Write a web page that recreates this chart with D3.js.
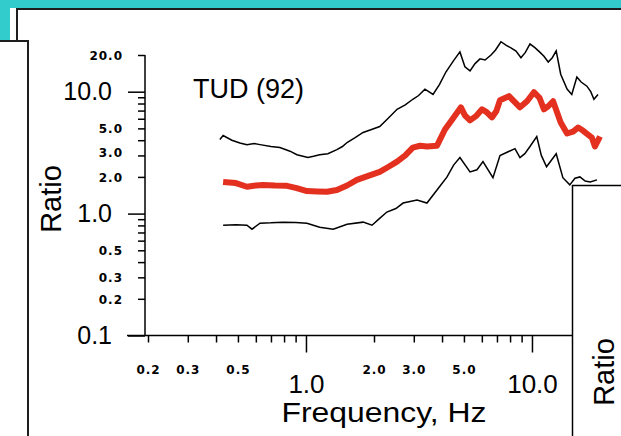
<!DOCTYPE html>
<html><head><meta charset="utf-8">
<script src="https://cdn.jsdelivr.net/npm/d3@7"></script>
<style>html,body{margin:0;padding:0;background:#fff;}svg{display:block;}</style>
</head><body>
<script>
// ---- data ----
const freqUpper = [0.416,0.430,0.470,0.510,0.548,0.590,0.626,0.700,0.767,0.850,0.912,1.02,1.08,1.15,1.25,1.37,1.45,1.52,1.65,1.79,1.95,2.12,2.30,2.53,2.75,2.97,3.15,3.36,3.65,3.90,4.16,4.50,4.80,5.05,5.32,5.60,5.89,6.20,6.59,6.90,7.29,7.70,8.07,8.50,8.94,9.35,9.80,10.3,10.8,11.3,11.8,12.3,12.8,13.4,14.3,15.0,15.8,16.5,17.5,18.2,18.8,19.6];
const upper     = [4.05,4.37,4.00,3.80,3.68,3.75,3.68,3.55,3.48,3.25,3.04,2.88,2.95,3.04,3.10,3.35,3.55,3.83,4.20,4.63,4.90,5.18,6.00,7.17,7.80,8.67,9.30,10.5,9.5,11.5,14.5,18.0,21.2,16.0,14.8,17.0,18.6,18.2,20.0,22.0,25.7,24.0,22.9,21.5,19.0,21.0,24.7,23.0,21.2,19.5,17.5,19.0,21.6,13.9,10.5,9.5,13.2,12.0,11.1,10.0,8.67,9.5];
const freqMid   = [0.430,0.490,0.548,0.600,0.645,0.730,0.824,0.910,1.01,1.12,1.24,1.37,1.52,1.68,1.90,2.12,2.30,2.53,2.75,2.97,3.20,3.43,3.80,4.12,4.47,4.85,5.05,5.32,5.65,6.01,6.30,6.65,6.95,7.22,7.91,8.40,8.85,9.51,10.2,10.8,11.3,11.8,12.4,13.4,14.3,15.2,16.0,16.8,17.7,18.4,19.0,20.0];
const mid       = [1.82,1.78,1.66,1.70,1.72,1.70,1.69,1.62,1.53,1.52,1.51,1.56,1.70,1.89,2.05,2.20,2.40,2.67,3.00,3.48,3.60,3.55,3.61,4.90,6.04,7.44,6.40,5.81,6.30,7.17,6.80,6.15,6.90,8.5,9.2,8.20,7.44,8.35,9.9,8.90,7.17,7.60,8.35,5.60,4.54,4.70,5.09,4.80,4.45,4.20,3.55,4.29];
const freqLower = [0.430,0.490,0.548,0.577,0.626,0.700,0.791,0.900,1.01,1.15,1.32,1.52,1.79,1.96,2.10,2.28,2.50,2.69,3.10,3.43,3.80,4.21,4.50,4.80,5.32,5.71,6.07,6.72,7.22,7.80,8.41,8.85,9.30,9.80,10.5,11.0,11.6,12.8,13.7,14.7,15.5,16.3,17.2,18.1,19.4];
const lower     = [0.803,0.810,0.803,0.745,0.834,0.840,0.851,0.845,0.834,0.773,0.745,0.818,0.851,0.803,0.900,1.03,1.10,1.22,1.29,1.22,1.56,2.00,2.50,2.88,2.20,2.29,2.67,1.97,2.99,3.20,3.41,2.88,3.10,3.55,4.29,3.00,2.42,3.10,1.97,1.72,1.95,2.00,1.85,1.82,1.89];

const yTicks = [0.1,0.2,0.3,0.4,0.5,0.6,0.7,0.8,0.9,1,2,3,4,5,6,7,8,9,10,20];
const yMajor = [0.1,1,10];
const yLabels = {0.1:"0.1",0.2:"0.2",0.3:"0.3",0.5:"0.5",1:"1.0",2:"2.0",3:"3.0",5:"5.0",10:"10.0",20:"20.0"};
const xTicks = [0.2,0.3,0.4,0.5,0.6,0.7,0.8,0.9,1,2,3,4,5,6,7,8,9,10,20];
const xMajor = [1,10];
const xLabels = {0.2:"0.2",0.3:"0.3",0.5:"0.5",1:"1.0",2:"2.0",3:"3.0",5:"5.0",10:"10.0"};
const siteLabel = "TUD (92)";
const xTitle = "Frequency, Hz";
const yTitle = "Ratio";

// ---- drawing ----
const W = 621, H = 436;
const svg = d3.select("body").append("svg").attr("width", W).attr("height", H);
svg.append("rect").attr("width", W).attr("height", H).attr("fill", "#fff");

// slide window frames
const teal = "#33cccc", frame = "#1e1e1e";
svg.append("rect").attr("x",0).attr("y",0).attr("width",W).attr("height",8).attr("fill",teal);
svg.append("rect").attr("x",0).attr("y",0).attr("width",10).attr("height",40).attr("fill",teal);
svg.append("line").attr("x1",16).attr("x2",W).attr("y1",9).attr("y2",9).attr("stroke",frame).attr("stroke-width",2);
svg.append("line").attr("x1",17).attr("x2",17).attr("y1",8).attr("y2",40).attr("stroke",frame).attr("stroke-width",2);
svg.append("line").attr("x1",0).attr("x2",28).attr("y1",41).attr("y2",41).attr("stroke",frame).attr("stroke-width",2);
svg.append("line").attr("x1",28).attr("x2",28).attr("y1",40).attr("y2",H).attr("stroke",frame).attr("stroke-width",2);

const x = d3.scaleLog().domain([0.2, 20]).range([148, 600]);
const y = d3.scaleLog().domain([0.1, 20]).range([335.5, 55]);
const axisX0 = 145; // y-axis position
const axisY0 = y(0.1);

const smallFont = "DejaVu Sans", bigFont = "Liberation Sans, Arial, sans-serif";

// Y axis
const gy = svg.append("g").attr("transform", `translate(${axisX0},0)`)
  .call(d3.axisLeft(y).tickValues(yTicks).tickSize(7).tickFormat(d => yLabels[d] || ""));
gy.select(".domain").remove();
gy.append("line").attr("x1",0).attr("x2",0).attr("y1",y(20)).attr("y2",axisY0).attr("stroke","#000").attr("stroke-width",1.5);
gy.selectAll(".tick line").attr("stroke","#000").attr("stroke-width",1.5)
  .attr("x2", d => yMajor.includes(d) ? -17 : -7);
gy.selectAll(".tick text")
  .attr("fill","#000")
  .attr("x", d => yMajor.includes(d) ? -33 : -22)
  .attr("dy", d => yMajor.includes(d) ? "0.33em" : (d === 3 ? "0.05em" : "0.36em"))
  .style("font-family", d => yMajor.includes(d) ? bigFont : smallFont)
  .style("font-size", d => yMajor.includes(d) ? "25px" : "12px")
  .style("font-weight", d => yMajor.includes(d) ? "normal" : "bold")
  .style("letter-spacing", d => yMajor.includes(d) ? "0px" : "1px");

// X axis
const gx = svg.append("g").attr("transform", `translate(0,${axisY0})`)
  .call(d3.axisBottom(x).tickValues(xTicks).tickSize(7).tickFormat(d => xLabels[d] || ""));
gx.select(".domain").remove();
gx.append("line").attr("x1",127).attr("x2",x(20)).attr("y1",0).attr("y2",0).attr("stroke","#000").attr("stroke-width",1.5);
gx.selectAll(".tick line").attr("stroke","#000").attr("stroke-width",1.5)
  .attr("y2", d => xMajor.includes(d) ? 17 : 7);
gx.selectAll(".tick text")
  .attr("fill","#000")
  .attr("y", d => xMajor.includes(d) ? 57 : 38)
  .attr("dy", 0)
  .style("font-family", d => xMajor.includes(d) ? bigFont : smallFont)
  .style("font-size", d => xMajor.includes(d) ? "26px" : "12px")
  .style("font-weight", d => xMajor.includes(d) ? "normal" : "bold")
  .style("letter-spacing", d => xMajor.includes(d) ? "0px" : "1px");

// curves
const line = d3.line().x(d => x(d[0])).y(d => y(d[1]));
const zip = (a, b) => a.map((v, i) => [v, b[i]]);
svg.append("path").datum(zip(freqUpper, upper)).attr("d", line)
  .attr("fill","none").attr("stroke","#000").attr("stroke-width",1.5).attr("stroke-linejoin","miter");
svg.append("path").datum(zip(freqLower, lower)).attr("d", line)
  .attr("fill","none").attr("stroke","#000").attr("stroke-width",1.5).attr("stroke-linejoin","miter");
svg.append("path").datum(zip(freqMid, mid)).attr("d", line)
  .attr("fill","none").attr("stroke","#e3301f").attr("stroke-width",6).attr("stroke-linejoin","round");

// titles
svg.append("text").attr("x",193).attr("y",98).text(siteLabel)
  .style("font-family",bigFont).style("font-size","27px").attr("fill","#000");
svg.append("text").attr("x",384).attr("y",422).attr("text-anchor","middle").text(xTitle)
  .attr("textLength",205).attr("lengthAdjust","spacingAndGlyphs")
  .style("font-family",bigFont).style("font-size","27px").attr("fill","#000");
svg.append("text").attr("transform","translate(61,199) rotate(-90)").attr("text-anchor","middle").text(yTitle)
  .style("font-family",bigFont).style("font-size","29px").attr("fill","#000");

// overlapping window on the right
svg.append("rect").attr("x",573).attr("y",186).attr("width",W-573).attr("height",H-186).attr("fill","#fff");
svg.append("line").attr("x1",572.5).attr("x2",572.5).attr("y1",185).attr("y2",H).attr("stroke","#000").attr("stroke-width",1.5);
svg.append("line").attr("x1",572).attr("x2",W).attr("y1",185.5).attr("y2",185.5).attr("stroke","#000").attr("stroke-width",1.5);
svg.append("text").attr("transform","translate(614,372) rotate(-90)").attr("text-anchor","middle").text(yTitle)
  .style("font-family",bigFont).style("font-size","29px").attr("fill","#000");
</script>
</body></html>
